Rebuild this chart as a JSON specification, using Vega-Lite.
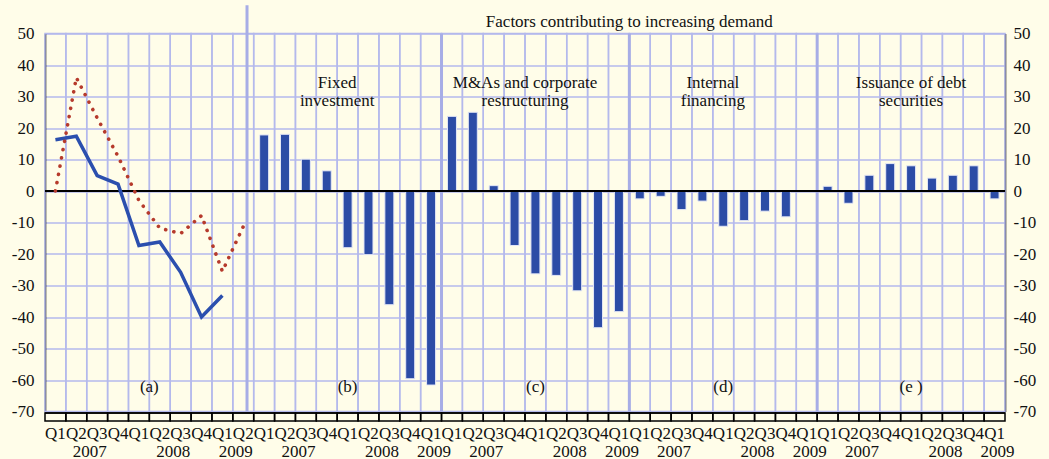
{
  "$schema": "https://vega.github.io/schema/vega-lite/v6.json",
  "width": 960,
  "height": 378,
  "autosize": {"type": "none"},
  "padding": {"left": 45, "top": 33.5, "right": 44, "bottom": 47.5},
  "background": "#fffde9",
  "config": {"view": {"stroke": null}, "font": "Liberation Serif"},
  "resolve": {"axis": {"y": "independent"}},
  "datasets": {
    "panelA": [
      {"p": "a 2007 Q1", "q": "Q1", "s": 16.3, "d": 0},
      {"p": "a 2007 Q2", "q": "Q2", "s": 17.4, "d": 36},
      {"p": "a 2007 Q3", "q": "Q3", "s": 4.9, "d": 23.2},
      {"p": "a 2007 Q4", "q": "Q4", "s": 2.2, "d": 11},
      {"p": "a 2008 Q1", "q": "Q1", "s": -17.3, "d": -3},
      {"p": "a 2008 Q2", "q": "Q2", "s": -16.2, "d": -11.8},
      {"p": "a 2008 Q3", "q": "Q3", "s": -25.8, "d": -13.5},
      {"p": "a 2008 Q4", "q": "Q4", "s": -40, "d": -7.8},
      {"p": "a 2009 Q1", "q": "Q1", "s": -33.2, "d": -25.5},
      {"p": "a 2009 Q2", "q": "Q2", "d": -11.3}
    ],
    "bars": [
      {"p": "b 2007 Q1", "q": "Q1", "v": 17.8}, {"p": "b 2007 Q2", "q": "Q2", "v": 18.0}, {"p": "b 2007 Q3", "q": "Q3", "v": 10.1}, {"p": "b 2007 Q4", "q": "Q4", "v": 6.4},
      {"p": "b 2008 Q1", "q": "Q1", "v": -18.0}, {"p": "b 2008 Q2", "q": "Q2", "v": -20.2}, {"p": "b 2008 Q3", "q": "Q3", "v": -36.1}, {"p": "b 2008 Q4", "q": "Q4", "v": -59.6},
      {"p": "b 2009 Q1", "q": "Q1", "v": -61.6},
      {"p": "c 2007 Q1", "q": "Q1", "v": 23.7}, {"p": "c 2007 Q2", "q": "Q2", "v": 25.0}, {"p": "c 2007 Q3", "q": "Q3", "v": 1.7}, {"p": "c 2007 Q4", "q": "Q4", "v": -17.3},
      {"p": "c 2008 Q1", "q": "Q1", "v": -26.3}, {"p": "c 2008 Q2", "q": "Q2", "v": -26.8}, {"p": "c 2008 Q3", "q": "Q3", "v": -31.7}, {"p": "c 2008 Q4", "q": "Q4", "v": -43.4},
      {"p": "c 2009 Q1", "q": "Q1", "v": -38.3},
      {"p": "d 2007 Q1", "q": "Q1", "v": -2.5}, {"p": "d 2007 Q2", "q": "Q2", "v": -1.7}, {"p": "d 2007 Q3", "q": "Q3", "v": -5.9}, {"p": "d 2007 Q4", "q": "Q4", "v": -3.2},
      {"p": "d 2008 Q1", "q": "Q1", "v": -11.2}, {"p": "d 2008 Q2", "q": "Q2", "v": -9.4}, {"p": "d 2008 Q3", "q": "Q3", "v": -6.4}, {"p": "d 2008 Q4", "q": "Q4", "v": -8.2},
      {"p": "d 2009 Q1", "q": "Q1", "v": 0},
      {"p": "e 2007 Q1", "q": "Q1", "v": 1.5}, {"p": "e 2007 Q2", "q": "Q2", "v": -3.9}, {"p": "e 2007 Q3", "q": "Q3", "v": 5.0}, {"p": "e 2007 Q4", "q": "Q4", "v": 8.7},
      {"p": "e 2008 Q1", "q": "Q1", "v": 8.0}, {"p": "e 2008 Q2", "q": "Q2", "v": 4.1}, {"p": "e 2008 Q3", "q": "Q3", "v": 5.0}, {"p": "e 2008 Q4", "q": "Q4", "v": 8.0},
      {"p": "e 2009 Q1", "q": "Q1", "v": -2.5}
    ],
    "boundaries": [
      {"p": "a 2007 Q1"}, {"p": "a 2007 Q2"}, {"p": "a 2007 Q3"}, {"p": "a 2007 Q4"}, {"p": "a 2008 Q1"}, {"p": "a 2008 Q2"}, {"p": "a 2008 Q3"}, {"p": "a 2008 Q4"}, {"p": "a 2009 Q1"}, {"p": "a 2009 Q2"},
      {"p": "b 2007 Q1"}, {"p": "b 2007 Q2"}, {"p": "b 2007 Q3"}, {"p": "b 2007 Q4"}, {"p": "b 2008 Q1"}, {"p": "b 2008 Q2"}, {"p": "b 2008 Q3"}, {"p": "b 2008 Q4"}, {"p": "b 2009 Q1"},
      {"p": "c 2007 Q1"}, {"p": "c 2007 Q2"}, {"p": "c 2007 Q3"}, {"p": "c 2007 Q4"}, {"p": "c 2008 Q1"}, {"p": "c 2008 Q2"}, {"p": "c 2008 Q3"}, {"p": "c 2008 Q4"}, {"p": "c 2009 Q1"},
      {"p": "d 2007 Q1"}, {"p": "d 2007 Q2"}, {"p": "d 2007 Q3"}, {"p": "d 2007 Q4"}, {"p": "d 2008 Q1"}, {"p": "d 2008 Q2"}, {"p": "d 2008 Q3"}, {"p": "d 2008 Q4"}, {"p": "d 2009 Q1"},
      {"p": "e 2007 Q1"}, {"p": "e 2007 Q2"}, {"p": "e 2007 Q3"}, {"p": "e 2007 Q4"}, {"p": "e 2008 Q1"}, {"p": "e 2008 Q2"}, {"p": "e 2008 Q3"}, {"p": "e 2008 Q4"}, {"p": "e 2009 Q1"}
    ],
    "labelsEdge": [
      {"p": "d 2007 Q1", "v": 53.8, "t": "Factors contributing to increasing demand"},
      {"p": "b 2008 Q1", "v": 34.3, "t": "Fixed\ninvestment"},
      {"p": "c 2008 Q1", "v": 34.3, "t": "M&As and corporate\nrestructuring"},
      {"p": "d 2008 Q1", "v": 34.3, "t": "Internal\nfinancing"},
      {"p": "a 2008 Q2", "v": -62.2, "t": "(a)"}
    ],
    "labelsCenter": [
      {"p": "e 2008 Q1", "v": 34.3, "t": "Issuance of debt\nsecurities"},
      {"p": "b 2008 Q1", "v": -62.2, "t": "(b)"},
      {"p": "c 2008 Q1", "v": -62.2, "t": "(c)"},
      {"p": "d 2008 Q1", "v": -62.2, "t": "(d)"},
      {"p": "e 2008 Q1", "v": -62.2, "t": "(e )"}
    ],
    "yearsEdge": [
      {"p": "a 2007 Q3", "t": "2007"}, {"p": "a 2008 Q3", "t": "2008"}, {"p": "a 2009 Q2", "t": "2009"},
      {"p": "b 2007 Q3", "t": "2007"}, {"p": "b 2008 Q3", "t": "2008"},
      {"p": "c 2007 Q3", "t": "2007"}, {"p": "c 2008 Q3", "t": "2008"},
      {"p": "d 2007 Q3", "t": "2007"}, {"p": "d 2008 Q3", "t": "2008"},
      {"p": "e 2007 Q3", "t": "2007"}, {"p": "e 2008 Q3", "t": "2008"}
    ],
    "yearsCenter": [
      {"p": "b 2009 Q1", "t": "2009"}, {"p": "c 2009 Q1", "t": "2009"},
      {"p": "d 2009 Q1", "t": "2009"}, {"p": "e 2009 Q1", "t": "2009"}
    ],
    "sepFirst": [{"p": "a 2009 Q2"}],
    "sepOthers": [{"p": "c 2007 Q1"}, {"p": "d 2007 Q1"}, {"p": "e 2007 Q1"}]
  },
  "layer": [
    {
      "data": {"name": "boundaries"},
      "mark": {"type": "bar", "filled": false, "color": "#b4b9ec", "strokeWidth": 1.5, "width": {"band": 1}},
      "encoding": {
        "x": {"field": "p", "type": "nominal", "axis": null, "scale": {"paddingInner": 0, "paddingOuter": 0}},
        "y": {"datum": 50, "type": "quantitative", "axis": null, "scale": {"domain": [-70, 50], "nice": false, "zero": false}},
        "y2": {"datum": -70}
      }
    },
    {
      "data": {"name": "bars"},
      "mark": {"type": "bar", "size": 9, "color": "#2c4ca6", "stroke": "#e4e7f6", "strokeWidth": 1},
      "encoding": {
        "x": {"field": "p", "type": "nominal", "axis": null},
        "y": {
          "field": "v", "type": "quantitative",
          "axis": {
            "orient": "left", "title": null, "values": [-70, -60, -50, -40, -30, -20, -10, 0, 10, 20, 30, 40, 50],
            "grid": true, "gridColor": "#b4b9ec", "gridWidth": 1.5, "gridOpacity": 1,
            "domainColor": "#000", "domainWidth": 1.5, "ticks": false, "labelPadding": 11,
            "labelExpr": "datum.value + ''",
            "labelFont": "Liberation Serif", "labelFontSize": 17, "labelColor": "#111"
          }
        }
      }
    },
    {
      "data": {"name": "sepFirst"},
      "mark": {"type": "rule", "color": "#a7ade6", "strokeWidth": 3},
      "encoding": {
        "x": {"field": "p", "type": "nominal", "bandPosition": 0.68, "axis": null},
        "y": {"datum": 59, "type": "quantitative", "axis": null},
        "y2": {"datum": -70}
      }
    },
    {
      "data": {"name": "sepOthers"},
      "mark": {"type": "rule", "color": "#a7ade6", "strokeWidth": 3},
      "encoding": {
        "x": {"field": "p", "type": "nominal", "bandPosition": 0, "axis": null},
        "y": {"datum": 50, "type": "quantitative", "axis": null},
        "y2": {"datum": -70}
      }
    },
    {
      "data": {"values": [{}]},
      "mark": {"type": "rule", "color": "#000", "strokeWidth": 2},
      "encoding": {"y": {"datum": 0, "type": "quantitative", "axis": null}}
    },
    {
      "data": {"values": [{}]},
      "mark": {"type": "rule", "color": "#000", "strokeWidth": 1.5},
      "encoding": {"y": {"datum": -70.45, "type": "quantitative", "axis": null}}
    },
    {
      "data": {"name": "boundaries"},
      "mark": {"type": "bar", "filled": false, "color": "#000", "strokeWidth": 1.5, "width": {"band": 1}},
      "encoding": {
        "x": {"field": "p", "type": "nominal", "axis": null},
        "y": {"datum": -70.45, "type": "quantitative", "axis": null},
        "y2": {"datum": -73}
      }
    },
    {
      "data": {"name": "panelA"},
      "mark": {"type": "line", "color": "#2b4fae", "strokeWidth": 3.5, "strokeJoin": "miter"},
      "encoding": {
        "x": {"field": "p", "type": "nominal", "axis": null},
        "y": {"field": "s", "type": "quantitative", "axis": null}
      }
    },
    {
      "data": {"name": "panelA"},
      "mark": {"type": "line", "color": "#b63a2c", "strokeWidth": 3.6, "strokeCap": "round", "strokeDash": [0.1, 8.3]},
      "encoding": {
        "x": {"field": "p", "type": "nominal", "axis": null},
        "y": {
          "field": "d", "type": "quantitative",
          "axis": {
            "orient": "right", "title": null, "values": [-70, -60, -50, -40, -30, -20, -10, 0, 10, 20, 30, 40, 50],
            "grid": false, "domainColor": "#000", "domainWidth": 1.5, "ticks": false,
            "labelPadding": 8, "labelAlign": "left",
            "labelExpr": "datum.value < 0 ? datum.value + '' : '\u2004' + datum.value",
            "labelFont": "Liberation Serif", "labelFontSize": 17, "labelColor": "#111"
          }
        }
      }
    },
    {
      "data": {"name": "bars"},
      "mark": {"type": "text", "font": "Liberation Serif", "fontSize": 17, "color": "#111", "align": "center", "baseline": "alphabetic", "dy": 27},
      "encoding": {
        "x": {"field": "p", "type": "nominal", "axis": null},
        "y": {"datum": -70, "type": "quantitative", "axis": null},
        "text": {"field": "q"}
      }
    },
    {
      "data": {"name": "panelA"},
      "mark": {"type": "text", "font": "Liberation Serif", "fontSize": 17, "color": "#111", "align": "center", "baseline": "alphabetic", "dy": 27},
      "encoding": {
        "x": {"field": "p", "type": "nominal", "axis": null},
        "y": {"datum": -70, "type": "quantitative", "axis": null},
        "text": {"field": "q"}
      }
    },
    {
      "data": {"name": "labelsEdge"},
      "mark": {"type": "text", "font": "Liberation Serif", "fontSize": 17, "color": "#111", "align": "center", "baseline": "middle", "lineBreak": "\n", "lineHeight": 18.5},
      "encoding": {
        "x": {"field": "p", "type": "nominal", "bandPosition": 0, "axis": null},
        "y": {"field": "v", "type": "quantitative", "axis": null},
        "text": {"field": "t"}
      }
    },
    {
      "data": {"name": "labelsCenter"},
      "mark": {"type": "text", "font": "Liberation Serif", "fontSize": 17, "color": "#111", "align": "center", "baseline": "middle", "lineBreak": "\n", "lineHeight": 18.5},
      "encoding": {
        "x": {"field": "p", "type": "nominal", "axis": null},
        "y": {"field": "v", "type": "quantitative", "axis": null},
        "text": {"field": "t"}
      }
    },
    {
      "data": {"name": "yearsEdge"},
      "mark": {"type": "text", "font": "Liberation Serif", "fontSize": 17, "color": "#111", "align": "center", "baseline": "alphabetic", "dy": 45.5, "dx": 3},
      "encoding": {
        "x": {"field": "p", "type": "nominal", "bandPosition": 0, "axis": null},
        "y": {"datum": -70, "type": "quantitative", "axis": null},
        "text": {"field": "t"}
      }
    },
    {
      "data": {"name": "yearsCenter"},
      "mark": {"type": "text", "font": "Liberation Serif", "fontSize": 17, "color": "#111", "align": "center", "baseline": "alphabetic", "dy": 45.5, "dx": 3},
      "encoding": {
        "x": {"field": "p", "type": "nominal", "axis": null},
        "y": {"datum": -70, "type": "quantitative", "axis": null},
        "text": {"field": "t"}
      }
    }
  ]
}
